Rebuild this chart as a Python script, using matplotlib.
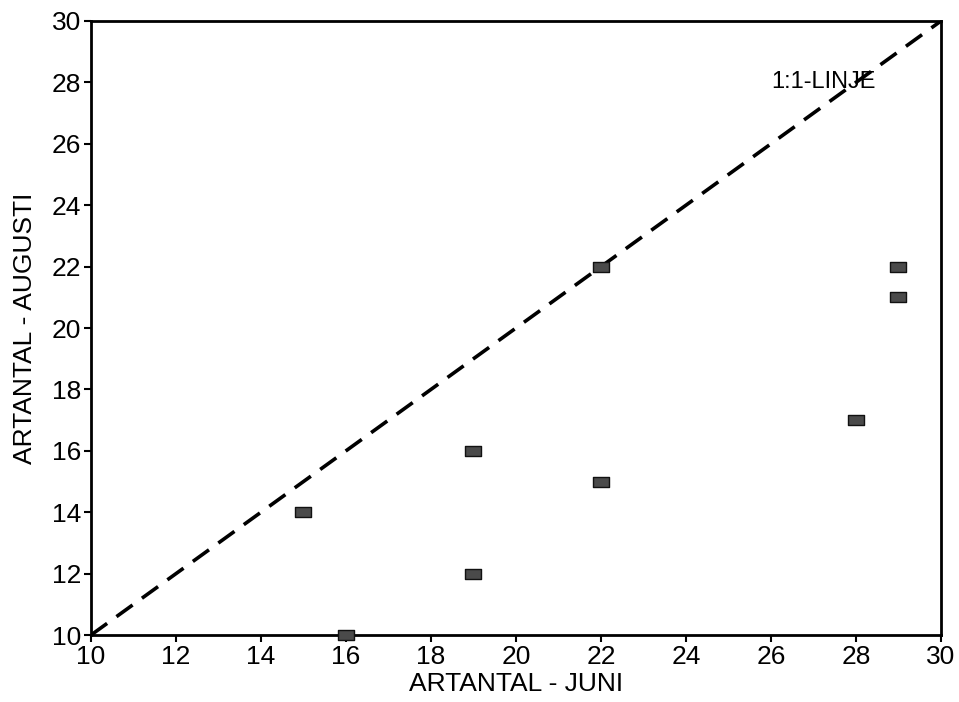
import matplotlib
matplotlib.use("Agg")
import matplotlib.pyplot as plt
from matplotlib.path import Path

plt.rcParams['font.family'] = ['Liberation Sans', 'DejaVu Sans']

# Species counts per site: June survey vs. August survey
artantal_juni = [15, 16, 19, 19, 22, 22, 28, 29, 29]
artantal_augusti = [14, 10, 16, 12, 22, 15, 17, 22, 21]

x_ticks = [10, 12, 14, 16, 18, 20, 22, 24, 26, 28, 30]
y_ticks = [10, 12, 14, 16, 18, 20, 22, 24, 26, 28, 30]
one_to_one = [10, 30]

fig = plt.figure(figsize=(9.59, 7.02), dpi=100)
ax = fig.add_axes([0.0949, 0.0954, 0.8863, 0.8747])

# 1:1 reference line
ax.plot(one_to_one, one_to_one, color='black', lw=2.6,
        linestyle=(0, (5.5, 3.2)), zorder=2)
ax.text(26, 28, '1:1-LINJE', fontsize=17, ha='left', va='center', zorder=3)

# Rectangular point markers (wider than tall)
rect = Path([(-1.5, -1.0), (1.5, -1.0), (1.5, 1.0), (-1.5, 1.0), (-1.5, -1.0)],
            [Path.MOVETO, Path.LINETO, Path.LINETO, Path.LINETO, Path.CLOSEPOLY])
ax.scatter(artantal_juni, artantal_augusti, marker=rect, s=130,
           facecolor='#4a4a4a', edgecolor='#111111', linewidths=1.0,
           zorder=4, clip_on=False)

ax.set_xlim(10, 30)
ax.set_ylim(10, 30)
ax.set_xticks(x_ticks)
ax.set_yticks(y_ticks)
ax.tick_params(axis='both', direction='out', length=5, width=1.5,
               labelsize=19, pad=2)

for sp in ax.spines.values():
    sp.set_linewidth(2.0)

ax.set_xlabel('ARTANTAL - JUNI', fontsize=19, labelpad=2)
ax.set_ylabel('ARTANTAL - AUGUSTI', fontsize=19)
ax.yaxis.set_label_coords(-0.064, 0.5)

fig.savefig('out.png', dpi=100)
